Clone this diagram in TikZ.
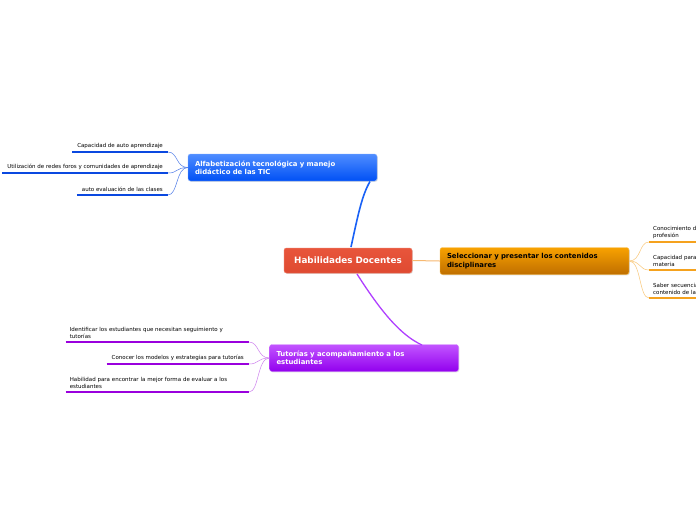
\documentclass[tikz,border=0pt]{standalone}
\usepackage{fontspec}
\setmainfont{DejaVu Sans}
\usetikzlibrary{shadows}
\definecolor{cred}{HTML}{E8553B}
\definecolor{credb}{HTML}{DF4A31}
\definecolor{bluet}{HTML}{4F8DFF}
\definecolor{blueb}{HTML}{0050F5}
\definecolor{bluel}{HTML}{0A48E0}
\definecolor{oranget}{HTML}{F8A200}
\definecolor{orangeb}{HTML}{BF6E00}
\definecolor{orangel}{HTML}{F5A21E}
\definecolor{orangec}{HTML}{F7B870}
\definecolor{purplet}{HTML}{C255FF}
\definecolor{purpleb}{HTML}{9200EE}
\definecolor{purplel}{HTML}{9A00DD}
\definecolor{purplec}{HTML}{B040FF}
\tikzset{
  mainbox/.style={rounded corners=2.5pt, minimum width=128pt, minimum height=25pt, inner sep=0pt,
     top color=cred, bottom color=credb, draw=cred!80!white, line width=0.5pt,
     drop shadow={shadow xshift=0.8pt, shadow yshift=-0.8pt, opacity=0.25},
     text=white, font=\fontsize{8.8}{10}\selectfont\bfseries},
  subbox/.style={rounded corners=2.5pt, minimum width=189pt, minimum height=27pt, inner sep=0pt,
     line width=0.4pt, drop shadow={shadow xshift=0.8pt, shadow yshift=-0.8pt, opacity=0.25},
     font=\fontsize{6.9}{8.3}\selectfont\bfseries, align=left, text width=175pt},
  leaf/.style={font=\fontsize{5.5}{7}\selectfont, inner xsep=5pt, inner ysep=2.8pt},
  leafw/.style={leaf, text width=175pt, inner xsep=4pt, align=left},
  thin/.style={line width=0.5pt},
}
\begin{document}
\begin{tikzpicture}[x=1pt,y=-1pt]
\useasboundingbox (0,0) rectangle (696,520);
\clip (0,0) rectangle (696,520);
\fill[white] (0,0) rectangle (696,520);

% central
\node[mainbox] (c) at (348,260.5) {Habilidades Docentes};

% blue
\node[subbox, top color=bluet, bottom color=blueb, draw=bluet!70!white, text=white] (b) at (282.5,167.5)
  {Alfabetización tecnológica y manejo\\didáctico de las TIC};
% orange
\node[subbox, top color=oranget, bottom color=orangeb, draw=oranget!70!white, text=black] (o) at (534.5,261)
  {Seleccionar y presentar los contenidos\\disciplinares};
% purple
\node[subbox, top color=purplet, bottom color=purpleb, draw=purplet!70!white, text=white] (p) at (364,358)
  {Tutorías y acompañamiento a los\\estudiantes};

% main connectors
\draw[blueb!90!white, line width=1.6pt] (351,247) .. controls (358,215) and (362,195) .. (370,181.5);
\draw[orangec, line width=1pt] (c.east) -- (o.west);
\draw[purplec, line width=1.3pt] (357,274) .. controls (380,310) and (400,335) .. (422,345);

% blue leaves
\node[leaf, anchor=south east] (b1) at (168,152) {Capacidad de auto aprendizaje};
\node[leaf, anchor=south east] (b2) at (168,173) {Utilización de redes foros y comunidades de aprendizaje};
\node[leaf, anchor=south east] (b3) at (168,195) {auto evaluación de las clases};
\foreach \n in {b1,b2,b3}{
  \draw[bluel, line width=2.2pt] (\n.south west) -- (\n.south east);
  \draw[bluel!70!white, thin] (b.west) .. controls +(-12,0) and +(10,0) .. (\n.south east);
}

% orange leaves
\node[leafw, anchor=south west, text width=150pt] (o1) at (649,242) {Conocimiento de la disciplina y\\profesión};
\node[leafw, anchor=south west, text width=150pt] (o2) at (649,270) {Capacidad para dominar la\\materia};
\node[leafw, anchor=south west, text width=150pt] (o3) at (649,298) {Saber secuenciar el\\contenido de la materia};
\foreach \n in {o1,o2,o3}{
  \draw[orangel, line width=2.2pt] (\n.south west) -- (\n.south east);
  \draw[orangel!60!white, thin] (o.east) .. controls +(12,0) and +(-10,0) .. (\n.south west);
}

% purple leaves
\node[leafw, anchor=south east] (p1) at (249,342) {Identificar los estudiantes que necesitan seguimiento y\\tutorías};
\node[leaf, anchor=south east] (p2) at (249,364) {Conocer los modelos y estrategias para tutorías};
\node[leafw, anchor=south east] (p3) at (249,392) {Habilidad para encontrar la mejor forma de evaluar a los\\estudiantes};
\foreach \n in {p1,p2,p3}{
  \draw[purplel, line width=2.2pt] (\n.south west) -- (\n.south east);
  \draw[purplel!50!white, thin] (p.west) .. controls +(-12,0) and +(10,0) .. (\n.south east);
}
\end{tikzpicture}
\end{document}
